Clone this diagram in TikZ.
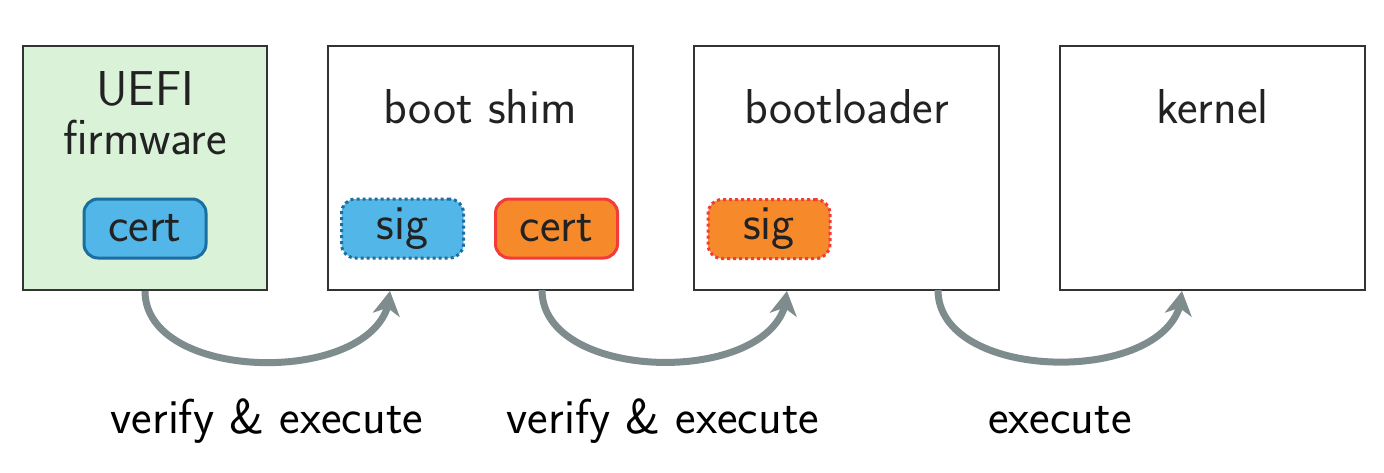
\documentclass[tikz,border=0pt]{standalone}
\usetikzlibrary{arrows.meta,bending}
\definecolor{boxgreen}{HTML}{D9F2D8}
\definecolor{framegray}{HTML}{333333}
\definecolor{textgray}{HTML}{222222}
\definecolor{keyblue}{HTML}{52B7E8}
\definecolor{keyblueborder}{HTML}{1A6EA0}
\definecolor{keyorange}{HTML}{F6892A}
\definecolor{keyred}{HTML}{F43B3B}
\definecolor{flowgray}{HTML}{7F8C8D}
\begin{document}
\begin{tikzpicture}[x=1pt,y=-1pt,font=\sffamily\fontsize{49}{55}\selectfont]
\useasboundingbox (0,0) rectangle (1384,472);
\tikzset{
  stage/.style={draw=framegray, line width=2pt, minimum height=244pt, inner sep=0pt},
  title/.style={anchor=base, text=textgray, inner sep=0pt},
  keybox/.style={rounded corners=14pt, line width=3pt, minimum width=122pt, minimum height=59pt, inner sep=0pt, text=textgray},
  bluekey/.style={keybox, fill=keyblue, draw=keyblueborder},
  orangekey/.style={keybox, fill=keyorange, draw=keyred},
  dottedline/.style={dash pattern=on 3pt off 3pt, line width=3pt},
  flow/.style={draw=flowgray, line width=7pt, -{Stealth[length=24pt,width=27pt,inset=7pt]}},
  caption/.style={anchor=base, text=black, inner sep=0pt}
}
% stages
\node[stage, fill=boxgreen, minimum width=244pt] (uefi) at (145,168) {};
\node[stage, fill=white, minimum width=305pt] (shim) at (480.5,168) {};
\node[stage, fill=white, minimum width=305pt] (loader) at (846.5,168) {};
\node[stage, fill=white, minimum width=305pt] (kernel) at (1212.5,168) {};
% titles
\node[title] (t1a) at (145,105) {UEFI};
\node[title] (t1b) at (145,154) {firmware};
\node[title] (t2) at (480.5,123) {boot shim};
\node[title] (t3) at (846.5,123) {bootloader};
\node[title] (t4) at (1212.5,123) {kernel};
% keys
\node[bluekey] (cert1) at (145,228.5) {cert};
\node[bluekey, dottedline] (sig2) at (402.5,228.5) {sig};
\node[orangekey] (cert2) at (556.5,228.5) {cert};
\node[orangekey, dottedline] (sig3) at (769,229) {sig};
% arrow end points
\coordinate (e1) at (390,291);
\coordinate (s2) at (542,290);
\coordinate (e2) at (787,291);
\coordinate (s3) at (938,290);
\coordinate (e3) at (1182,291);
\draw[flow] (uefi.south) to[out=-90,in=-90] (e1);
\draw[flow] (s2) to[out=-90,in=-90] (e2);
\draw[flow] (s3) to[out=-90,in=-90] (e3);
% captions
\node[caption] (c1) at (267,433) {verify \& execute};
\node[caption] (c2) at (663,433) {verify \& execute};
\node[caption] (c3) at (1060,433) {execute};
\end{tikzpicture}
\end{document}
